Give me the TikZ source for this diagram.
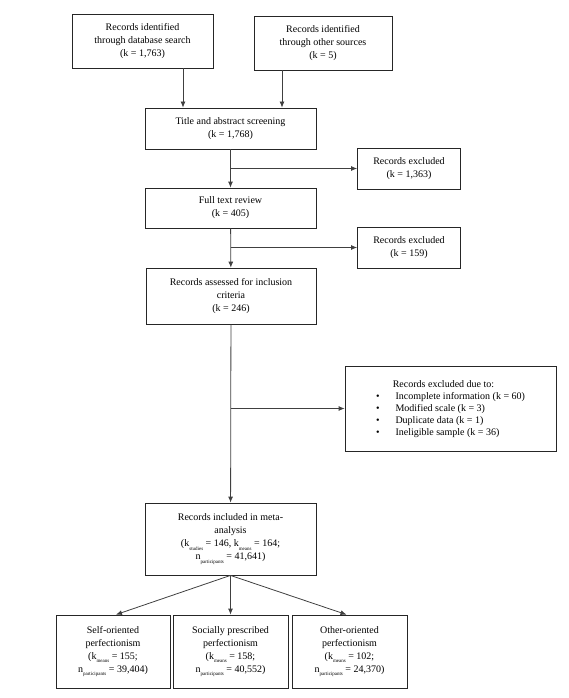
\documentclass[tikz,border=0pt]{standalone}
\usepackage{fontspec}
\setmainfont{Liberation Serif}
\usetikzlibrary{arrows.meta,calc}
\newcommand{\sbs}[1]{\raisebox{-3.5pt}{\fontsize{5}{5}\selectfont #1}}
\tikzset{
  box/.style={draw=black!85, line width=0.8pt, fill=white, align=center, inner sep=2pt,
    font=\fontsize{10}{13}\selectfont},
  conn/.style={draw=black!75, line width=0.8pt, -{Latex[length=6pt,width=5pt]}},
}
\begin{document}
\begin{tikzpicture}[x=1pt,y=-1pt]
\useasboundingbox (0,0) rectangle (569,698);
\node[box, minimum width=141pt, minimum height=54pt] (db) at (142.5,41) {Records identified\\through database search\\(k = 1,763)};
\node[box, minimum width=138pt, minimum height=54pt] (other) at (323,43) {Records identified\\through other sources\\(k = 5)};
\node[box, minimum width=171pt, minimum height=41pt] (title) at (230.5,128.5) {Title and abstract screening\\(k = 1,768)};
\node[box, minimum width=103pt, minimum height=41pt] (ex1) at (409,168.5) {Records excluded\\(k = 1,363)};
\node[box, minimum width=171pt, minimum height=40pt] (full) at (230.5,208) {Full text review\\(k = 405)};
\node[box, minimum width=103pt, minimum height=41pt] (ex2) at (409,247.5) {Records excluded\\(k = 159)};
\node[box, minimum width=170pt, minimum height=56pt] (assess) at (231,296) {Records assessed for inclusion\\criteria\\(k = 246)};
\node[box, minimum width=211pt, minimum height=85pt] (ex3) at (450.5,408.5) {\begin{tabular}{@{}c@{}}\hspace{-14pt}Records excluded due to:\\[-1pt]
\begin{tabular}{@{}l@{\hspace{16pt}}l@{}}
•&Incomplete information (k = 60)\\[-1pt]
•&Modified scale (k = 3)\\[-1pt]
•&Duplicate data (k = 1)\\[-1pt]
•&Ineligible sample (k = 36)
\end{tabular}\end{tabular}};
\node[box, minimum width=171pt, minimum height=72pt] (incl) at (230.5,539) {Records included in meta-\\analysis\\(k\sbs{studies} = 146, k\sbs{means} = 164;\\n\sbs{participants} = 41,641)};
\node[box, minimum width=114pt, minimum height=73pt] (self) at (113,651.5) {Self-oriented\\perfectionism\\(k\sbs{means} = 155;\\n\sbs{participants} = 39,404)};
\node[box, minimum width=115pt, minimum height=73pt] (soc) at (230.5,651.5) {Socially prescribed\\perfectionism\\(k\sbs{means} = 158;\\n\sbs{participants} = 40,552)};
\node[box, minimum width=115pt, minimum height=73pt] (oth) at (349.5,651.5) {Other-oriented\\perfectionism\\(k\sbs{means} = 102;\\n\sbs{participants} = 24,370)};

\draw[conn] ([xshift=40.5pt]db.south) -- ([xshift=40.5pt]db.south |- title.north);
\draw[conn] ([xshift=-41pt]other.south) -- ([xshift=-41pt]other.south |- title.north);
\draw[conn] (title) -- (full);
\draw[conn] (title.south |- ex1.west) -- (ex1.west);
\draw[conn] (full) -- (assess);
\draw[conn] (full.south |- ex2.west) -- (ex2.west);
\draw[conn] (assess) -- (incl);
\draw[conn] (assess.south |- ex3.west) -- (ex3.west);
\draw[conn] (incl.south) -- ([xshift=3pt]self.north);
\draw[conn] (incl.south) -- (soc.north);
\draw[conn] (incl.south) -- ([xshift=-3pt]oth.north);
\end{tikzpicture}
\end{document}
